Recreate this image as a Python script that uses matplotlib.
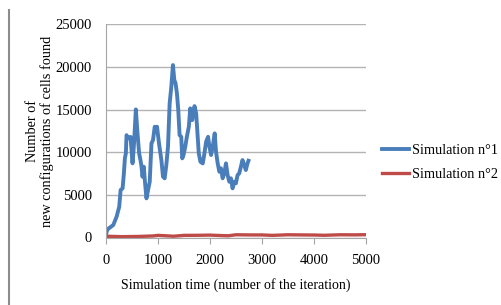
import matplotlib
matplotlib.use("Agg")
import matplotlib.pyplot as plt
from matplotlib.lines import Line2D

# Simulation n°1 (blue)
sim1_x = [0, 13, 30, 140, 204, 254, 281, 319, 344, 363, 382, 395, 427, 472, 510, 535, 574, 606,
          637, 663, 683, 702, 727, 746, 778, 809, 841, 874, 904, 937, 969, 981, 1019, 1065, 1096,
          1128, 1160, 1192, 1224, 1256, 1287, 1314, 1338, 1364, 1390, 1415, 1447, 1466, 1491,
          1524, 1555, 1593, 1620, 1658, 1702, 1734, 1759, 1784, 1816, 1861, 1893, 1925, 1963,
          1989, 2021, 2052, 2090, 2116, 2148, 2180, 2211, 2243, 2275, 2307, 2339, 2371, 2403,
          2434, 2466, 2498, 2530, 2562, 2594, 2625, 2657, 2689, 2721, 2740]
sim1_y = [300, 680, 960, 1465, 2440, 3600, 5570, 5760, 7520, 9280, 9870, 12000, 11630, 11800,
          8700, 10640, 15020, 12200, 9870, 9080, 8300, 7130, 8300, 6740, 4590, 5570, 6540, 11040,
          11430, 12990, 12400, 12990, 11040, 9080, 7130, 6940, 8500, 10640, 15730, 17670, 20220,
          18460, 18070, 16900, 14940, 12010, 11810, 9280, 9670, 10640, 11810, 12990, 15140,
          13770, 15410, 14550, 12210, 9870, 8880, 8690, 9870, 11230, 11810, 10640, 9670, 10640,
          12210, 10060, 8690, 7710, 8110, 6940, 7520, 8690, 7320, 6540, 6940, 5760, 6540, 6350,
          7320, 7520, 8300, 9080, 8500, 7910, 8690, 9000]

# Simulation n°2 (red)
sim2_x = [0, 300, 600, 900, 1000, 1150, 1300, 1500, 1800, 2000, 2200, 2350, 2500, 2800, 3000,
          3200, 3500, 3800, 4000, 4200, 4500, 4800, 5000]
sim2_y = [150, 100, 120, 180, 250, 200, 150, 250, 260, 280, 230, 200, 320, 300, 300, 250, 320,
          300, 290, 260, 320, 310, 330]

xticks = [0, 1000, 2000, 3000, 4000, 5000]
yticks = [0, 5000, 10000, 15000, 20000, 25000]
labels = ["Simulation n°1", "Simulation n°2"]

plt.rcParams['font.family'] = ['Liberation Serif', 'DejaVu Serif']

fig = plt.figure(figsize=(5.01, 3.05), dpi=100)
ax = fig.add_axes([106/501, 1-237.5/305, 260/501, 213.2/305])

blue = '#4A7EBB'
red = '#BE4B48'
ax.plot(sim1_x, sim1_y, color=blue, lw=2.8, solid_joinstyle='round')
ax.plot(sim2_x, sim2_y, color=red, lw=2.4)

ax.set_xlim(0, 5000)
ax.set_ylim(0, 25000)
ax.set_xticks(xticks)
ax.set_yticks(yticks)
ax.set_xticklabels([str(t) for t in xticks], fontsize=10.5)
ax.set_yticklabels([str(t) for t in yticks], fontsize=10.5)
ax.yaxis.grid(True, color='#B3B3B3', lw=1)
ax.set_axisbelow(True)
for s in ['top', 'right']:
    ax.spines[s].set_visible(False)
ax.spines['left'].set_color('#A6A6A6')
ax.spines['bottom'].set_color('#A6A6A6')
ax.tick_params(axis='x', direction='out', length=4, color='#A6A6A6', pad=8)
ax.tick_params(axis='y', length=0, pad=10)

ax.set_xlabel("Simulation time (number of the iteration)", fontsize=10, labelpad=8)
ax.set_ylabel("Number of\nnew configurations of cells found", fontsize=10.3, labelpad=1,
              linespacing=1.1)

handles = [Line2D([], [], color=blue, lw=2.8), Line2D([], [], color=red, lw=2.4)]
fig.legend(handles, labels, loc='center left', bbox_to_anchor=(375/501, 1-162.5/305),
           frameon=False, fontsize=10.3, handlelength=1.9, handletextpad=0.2,
           labelspacing=0.75, borderpad=0)

fig.add_artist(Line2D([9/501, 9/501], [0, 1-10/305], color='#8C8C8C', lw=1.5,
                      transform=fig.transFigure))

fig.savefig("out.png", dpi=100)
